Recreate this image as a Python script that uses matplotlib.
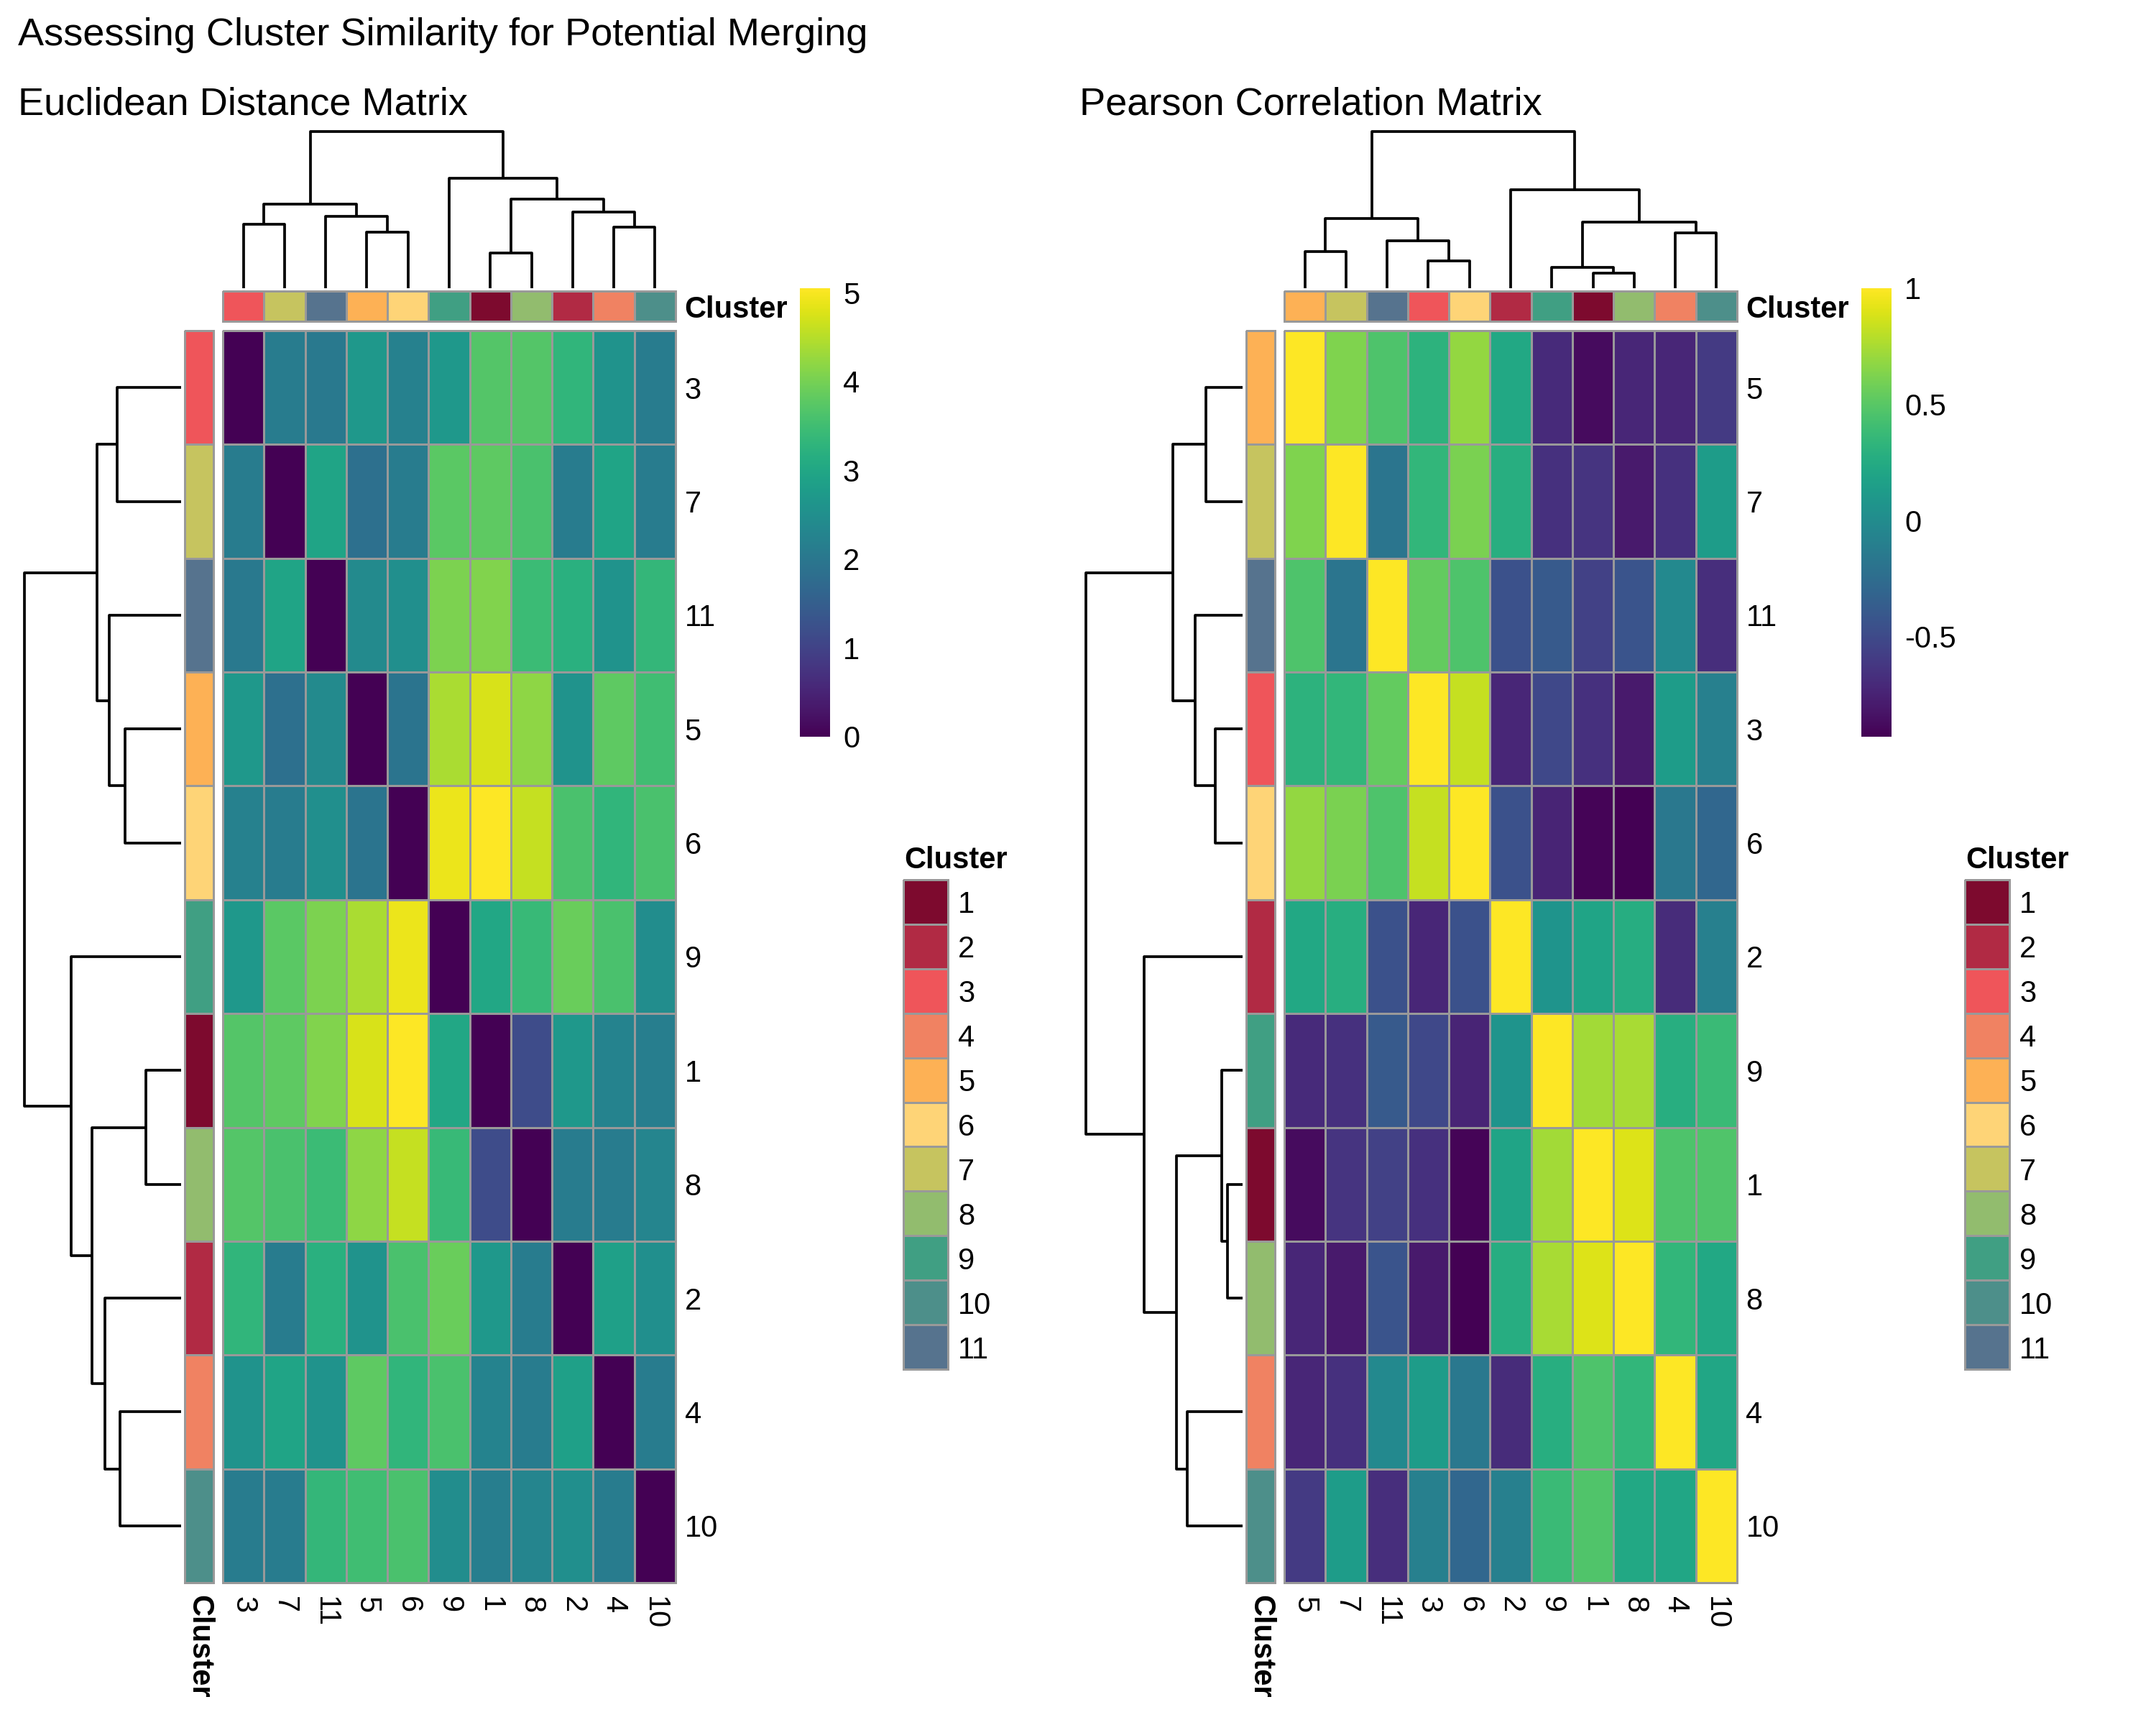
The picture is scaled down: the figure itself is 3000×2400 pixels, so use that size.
import numpy as np
import matplotlib
matplotlib.use("Agg")
import matplotlib.pyplot as plt
from matplotlib.colors import ListedColormap

plt.rcParams['font.family'] = ['Liberation Sans', 'DejaVu Sans']

# ---------------- data ----------------
main_title = "Assessing Cluster Similarity for Potential Merging"
euc_title = "Euclidean Distance Matrix"
cor_title = "Pearson Correlation Matrix"

cluster_names = ['1', '2', '3', '4', '5', '6', '7', '8', '9', '10', '11']
cluster_colors = ['#7D0A2E', '#B12A44', '#EF555A', '#F08262', '#FDB155', '#FED477',
                  '#C6C45F', '#92BC6E', '#409F83', '#4D8F8A', '#56738E']

# Euclidean distance (display order)
euc_order = ['3', '7', '11', '5', '6', '9', '1', '8', '2', '4', '10']
euc_values = [
    [0.00, 2.10, 2.05, 2.70, 2.20, 2.70, 3.70, 3.70, 3.30, 2.60, 2.10],
    [2.10, 0.00, 2.95, 1.85, 2.10, 3.75, 3.80, 3.60, 2.10, 2.95, 2.10],
    [2.05, 2.95, 0.00, 2.40, 2.50, 4.05, 4.10, 3.45, 3.20, 2.60, 3.35],
    [2.70, 1.85, 2.40, 0.00, 1.95, 4.40, 4.75, 4.20, 2.60, 3.80, 3.50],
    [2.20, 2.10, 2.50, 1.95, 0.00, 4.90, 5.05, 4.60, 3.60, 3.30, 3.60],
    [2.70, 3.75, 4.05, 4.40, 4.90, 0.00, 3.00, 3.40, 3.90, 3.60, 2.45],
    [3.70, 3.80, 4.10, 4.75, 5.05, 3.00, 0.00, 1.15, 2.70, 2.25, 2.15],
    [3.70, 3.60, 3.45, 4.20, 4.60, 3.40, 1.15, 0.00, 2.10, 2.10, 2.30],
    [3.30, 2.10, 3.20, 2.60, 3.60, 3.90, 2.70, 2.10, 0.00, 2.85, 2.50],
    [2.60, 2.95, 2.60, 3.80, 3.30, 3.60, 2.25, 2.10, 2.85, 0.00, 2.10],
    [2.10, 2.10, 3.35, 3.50, 3.60, 2.45, 2.15, 2.30, 2.50, 2.10, 0.00],
]
# merges: [left, right, relative height]; leaves 0..10 in display order, new nodes 11..
euc_merges = [
    [6, 7, 0.227], [3, 4, 0.358], [9, 10, 0.388], [0, 1, 0.407], [2, 12, 0.457],
    [8, 13, 0.488], [14, 15, 0.535], [11, 16, 0.568], [5, 18, 0.704], [17, 19, 1.0],
]
euc_ticks = [0, 1, 2, 3, 4, 5]
euc_ticklabels = ['0', '1', '2', '3', '4', '5']

# Pearson correlation (display order)
cor_order = ['5', '7', '11', '3', '6', '2', '9', '1', '8', '4', '10']
cor_values = [
    [1.00, 0.63, 0.46, 0.31, 0.69, 0.23, -0.70, -0.87, -0.72, -0.72, -0.60],
    [0.63, 1.00, -0.18, 0.34, 0.61, 0.28, -0.66, -0.64, -0.80, -0.66, 0.13],
    [0.46, -0.18, 1.00, 0.54, 0.46, -0.45, -0.39, -0.56, -0.43, -0.02, -0.68],
    [0.31, 0.34, 0.54, 1.00, 0.83, -0.72, -0.51, -0.66, -0.80, 0.13, -0.10],
    [0.69, 0.61, 0.46, 0.83, 1.00, -0.45, -0.74, -0.91, -0.93, -0.16, -0.29],
    [0.23, 0.28, -0.45, -0.72, -0.45, 1.00, 0.07, 0.20, 0.27, -0.69, -0.10],
    [-0.70, -0.66, -0.39, -0.51, -0.74, 0.07, 1.00, 0.73, 0.75, 0.28, 0.38],
    [-0.87, -0.64, -0.56, -0.66, -0.91, 0.20, 0.73, 1.00, 0.90, 0.46, 0.47],
    [-0.72, -0.80, -0.43, -0.80, -0.93, 0.27, 0.75, 0.90, 1.00, 0.34, 0.23],
    [-0.72, -0.66, -0.02, 0.13, -0.16, -0.69, 0.28, 0.46, 0.34, 1.00, 0.21],
    [-0.60, 0.13, -0.68, -0.10, -0.29, -0.10, 0.38, 0.47, 0.23, 0.21, 1.00],
]
cor_merges = [
    [7, 8, 0.097], [6, 11, 0.135], [3, 4, 0.174], [0, 1, 0.236], [2, 13, 0.304],
    [9, 10, 0.352], [12, 16, 0.424], [14, 15, 0.445], [5, 17, 0.628], [18, 19, 1.0],
]
cor_ticks = [-0.5, 0, 0.5, 1]
cor_ticklabels = ['-0.5', '0', '0.5', '1']

# ---------------- layout helpers ----------------
W, H = 3000, 2400
fig = plt.figure(figsize=(10, 8), dpi=300)
GREY = '#999999'
FS = 10
TFS = 13


def add_ax(x0, y0, x1, y1):
    ax = fig.add_axes([x0 / W, 1 - y1 / H, (x1 - x0) / W, (y1 - y0) / H])
    for s in ax.spines.values():
        s.set_visible(False)
    ax.tick_params(length=0, labelsize=FS)
    ax.set_xticks([])
    ax.set_yticks([])
    return ax


def dendro_segments(merges, n):
    pos = {i: i + 0.5 for i in range(n)}
    hgt = {i: 0.0 for i in range(n)}
    segs = []
    for k, (a, b, h) in enumerate(merges):
        segs.append(([pos[a], pos[a], pos[b], pos[b]], [hgt[a], h, h, hgt[b]]))
        pos[n + k] = (pos[a] + pos[b]) / 2
        hgt[n + k] = h
    return segs


cluster_cmap = ListedColormap(cluster_colors)


def panel(dx, title, order, values, merges, ticks, ticklabels):
    M = np.array(values)
    n = len(order)
    vmin, vmax = M.min(), M.max()
    idx = np.array([cluster_names.index(o) for o in order])

    fig.text((25 + dx) / W, 1 - 160 / H, title, fontsize=TFS, va='baseline', ha='left')

    # heatmap
    ax = add_ax(310 + dx, 460, 940 + dx, 2202)
    mesh = ax.pcolormesh(np.arange(n + 1), np.arange(n + 1), M, cmap='viridis',
                         vmin=vmin, vmax=vmax, edgecolors=GREY, linewidth=0.7)
    mesh.set_clip_on(False)
    ax.set_xlim(0, n)
    ax.set_ylim(n, 0)
    ax.yaxis.tick_right()
    ax.set_yticks(np.arange(n) + 0.5)
    ax.set_yticklabels(order)
    ax.set_xticks(np.arange(n) + 0.5)
    ax.set_xticklabels(order, rotation=270, va='top', ha='center')
    ax.tick_params(axis='y', pad=3)
    ax.tick_params(axis='x', pad=4.5)

    # top annotation
    axt = add_ax(310 + dx, 405, 940 + dx, 447)
    m = axt.pcolormesh(np.arange(n + 1), [0, 1], idx.reshape(1, -1), cmap=cluster_cmap,
                       vmin=-0.5, vmax=10.5, edgecolors=GREY, linewidth=0.7)
    m.set_clip_on(False)
    axt.set_xlim(0, n)
    axt.set_ylim(1, 0)
    axt.yaxis.tick_right()
    axt.set_yticks([0.5])
    axt.set_yticklabels(['Cluster'], fontweight='bold')
    axt.tick_params(axis='y', pad=3)

    # left annotation
    axl = add_ax(257 + dx, 460, 297 + dx, 2202)
    m = axl.pcolormesh([0, 1], np.arange(n + 1), idx.reshape(-1, 1), cmap=cluster_cmap,
                       vmin=-0.5, vmax=10.5, edgecolors=GREY, linewidth=0.7)
    m.set_clip_on(False)
    axl.set_xlim(0, 1)
    axl.set_ylim(n, 0)
    axl.set_xticks([0.5])
    axl.set_xticklabels(['Cluster'], rotation=270, va='top', ha='center', fontweight='bold')
    axl.tick_params(axis='x', pad=4)

    segs = dendro_segments(merges, n)
    # column dendrogram
    axc = add_ax(310 + dx, 183, 940 + dx, 401)
    for xs, hs in segs:
        axc.plot(xs, hs, color='black', lw=0.9, clip_on=False, solid_capstyle='butt')
    axc.set_xlim(0, n)
    axc.set_ylim(0, 1)
    axc.axis('off')

    # row dendrogram
    axr = add_ax(34 + dx, 460, 252 + dx, 2202)
    for xs, hs in segs:
        axr.plot(hs, xs, color='black', lw=0.9, clip_on=False, solid_capstyle='butt')
    axr.set_xlim(1, 0)
    axr.set_ylim(n, 0)
    axr.axis('off')

    # colorbar
    cax = add_ax(1113 + dx, 401, 1155 + dx, 1025)
    cb = fig.colorbar(mesh, cax=cax)
    cb.outline.set_visible(False)
    cb.set_ticks(ticks)
    cb.set_ticklabels(ticklabels)
    cax.tick_params(length=0, labelsize=FS, pad=4.3)

    # cluster legend
    axg = add_ax(1257 + dx, 1224, 1319 + dx, 1905)
    m = axg.pcolormesh([0, 1], np.arange(12), np.arange(11).reshape(-1, 1), cmap=cluster_cmap,
                       vmin=-0.5, vmax=10.5, edgecolors=GREY, linewidth=0.7)
    m.set_clip_on(False)
    axg.set_xlim(0, 1)
    axg.set_ylim(11, 0)
    axg.yaxis.tick_right()
    axg.set_yticks(np.arange(11) + 0.5)
    axg.set_yticklabels(cluster_names)
    axg.tick_params(axis='y', pad=3.4)
    fig.text((1258 + dx) / W, 1 - 1208 / H, 'Cluster', fontsize=FS, fontweight='bold',
             va='baseline', ha='left')


fig.text(25 / W, 1 - 63 / H, main_title, fontsize=TFS, va='baseline', ha='left')
panel(0, euc_title, euc_order, euc_values, euc_merges, euc_ticks, euc_ticklabels)
panel(1477, cor_title, cor_order, cor_values, cor_merges, cor_ticks, cor_ticklabels)

fig.savefig('out.png', dpi=300, facecolor='white')
